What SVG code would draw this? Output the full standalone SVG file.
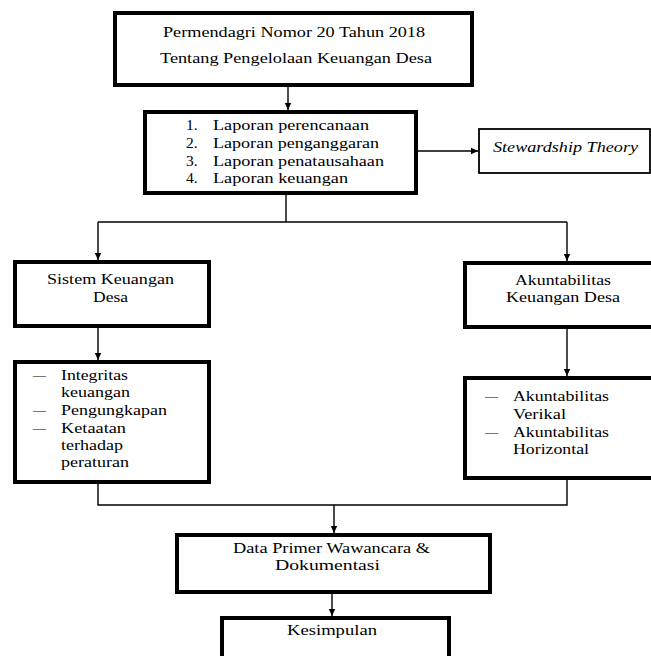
<svg xmlns="http://www.w3.org/2000/svg" width="651" height="656" viewBox="0 0 651 656">
<style>
.box{fill:#fff;stroke:#000;stroke-width:4}
.thin{fill:#fff;stroke:#000;stroke-width:1.8}
.c{fill:none;stroke:#000;stroke-width:1.4}
text{font-family:"Liberation Serif","Times New Roman",serif;font-size:15.5px;fill:#000}
.it{font-style:italic}
</style>
<defs>
<marker id="ah" markerWidth="8" markerHeight="8" refX="7" refY="4" orient="auto" markerUnits="userSpaceOnUse">
<path d="M0,0.8 L7,4 L0,7.2 Z" fill="#000"/>
</marker>
</defs>
<rect x="0" y="0" width="651" height="656" fill="#fff"/>
<g id="connectors">
<path class="c" d="M288,85 V110" marker-end="url(#ah)"/>
<path class="c" d="M416,151 H478" marker-end="url(#ah)"/>
<path class="c" d="M286,193 V222"/>
<path class="c" d="M98,222 H567"/>
<path class="c" d="M98,222 V260" marker-end="url(#ah)"/>
<path class="c" d="M567,222 V261" marker-end="url(#ah)"/>
<path class="c" d="M98,326 V360" marker-end="url(#ah)"/>
<path class="c" d="M567,327 V376" marker-end="url(#ah)"/>
<path class="c" d="M98,482 V505 H567 V478"/>
<path class="c" d="M334,505 V533" marker-end="url(#ah)"/>
<path class="c" d="M332,592 V616" marker-end="url(#ah)"/>
</g>
<g id="n1">
<rect class="box" x="115" y="13" width="357" height="72"/>
<text x="163" y="37" textLength="262" lengthAdjust="spacingAndGlyphs">Permendagri Nomor 20 Tahun 2018</text>
<text x="160" y="63" textLength="272" lengthAdjust="spacingAndGlyphs">Tentang Pengelolaan Keuangan Desa</text>
</g>
<g id="n2">
<rect class="box" x="145" y="112" width="271" height="81"/>
<text x="186" y="130">1.</text>
<text x="213" y="130" textLength="156" lengthAdjust="spacingAndGlyphs">Laporan perencanaan</text>
<text x="186" y="148">2.</text>
<text x="213" y="148" textLength="166" lengthAdjust="spacingAndGlyphs">Laporan penganggaran</text>
<text x="186" y="166">3.</text>
<text x="213" y="166" textLength="171" lengthAdjust="spacingAndGlyphs">Laporan penatausahaan</text>
<text x="186" y="183">4.</text>
<text x="213" y="183" textLength="135" lengthAdjust="spacingAndGlyphs">Laporan keuangan</text>
</g>
<g id="n3">
<rect class="thin" x="479" y="129" width="171" height="44"/>
<text class="it" x="493" y="152" textLength="145" lengthAdjust="spacingAndGlyphs">Stewardship Theory</text>
</g>
<g id="n4">
<rect class="box" x="15" y="262" width="194" height="64"/>
<text x="47" y="284" textLength="127" lengthAdjust="spacingAndGlyphs">Sistem Keuangan</text>
<text x="93" y="302" textLength="35" lengthAdjust="spacingAndGlyphs">Desa</text>
</g>
<g id="n5">
<rect class="box" x="15" y="362" width="194" height="120"/>
<text x="33" y="380" textLength="13" lengthAdjust="spacingAndGlyphs">–</text>
<text x="61" y="380" textLength="67" lengthAdjust="spacingAndGlyphs">Integritas</text>
<text x="61" y="397" textLength="69" lengthAdjust="spacingAndGlyphs">keuangan</text>
<text x="33" y="415" textLength="13" lengthAdjust="spacingAndGlyphs">–</text>
<text x="61" y="415" textLength="106" lengthAdjust="spacingAndGlyphs">Pengungkapan</text>
<text x="33" y="433" textLength="13" lengthAdjust="spacingAndGlyphs">–</text>
<text x="61" y="433" textLength="65" lengthAdjust="spacingAndGlyphs">Ketaatan</text>
<text x="61" y="450" textLength="62" lengthAdjust="spacingAndGlyphs">terhadap</text>
<text x="61" y="467" textLength="68" lengthAdjust="spacingAndGlyphs">peraturan</text>
</g>
<g id="n6">
<rect class="box" x="465" y="263" width="200" height="64"/>
<text x="515" y="285" textLength="96" lengthAdjust="spacingAndGlyphs">Akuntabilitas</text>
<text x="506" y="302" textLength="114" lengthAdjust="spacingAndGlyphs">Keuangan Desa</text>
</g>
<g id="n7">
<rect class="box" x="465" y="378" width="200" height="100"/>
<text x="485" y="401" textLength="13" lengthAdjust="spacingAndGlyphs">–</text>
<text x="513" y="401" textLength="96" lengthAdjust="spacingAndGlyphs">Akuntabilitas</text>
<text x="513" y="419" textLength="53" lengthAdjust="spacingAndGlyphs">Verikal</text>
<text x="485" y="437" textLength="13" lengthAdjust="spacingAndGlyphs">–</text>
<text x="513" y="437" textLength="96" lengthAdjust="spacingAndGlyphs">Akuntabilitas</text>
<text x="513" y="454" textLength="76" lengthAdjust="spacingAndGlyphs">Horizontal</text>
</g>
<g id="n8">
<rect class="box" x="177" y="535" width="313" height="57"/>
<text x="233" y="553" textLength="197" lengthAdjust="spacingAndGlyphs">Data Primer Wawancara &amp;</text>
<text x="275" y="570" textLength="105" lengthAdjust="spacingAndGlyphs">Dokumentasi</text>
</g>
<g id="n9">
<rect class="box" x="222" y="618" width="227" height="50"/>
<text x="287" y="635" textLength="90" lengthAdjust="spacingAndGlyphs">Kesimpulan</text>
</g>
</svg>
